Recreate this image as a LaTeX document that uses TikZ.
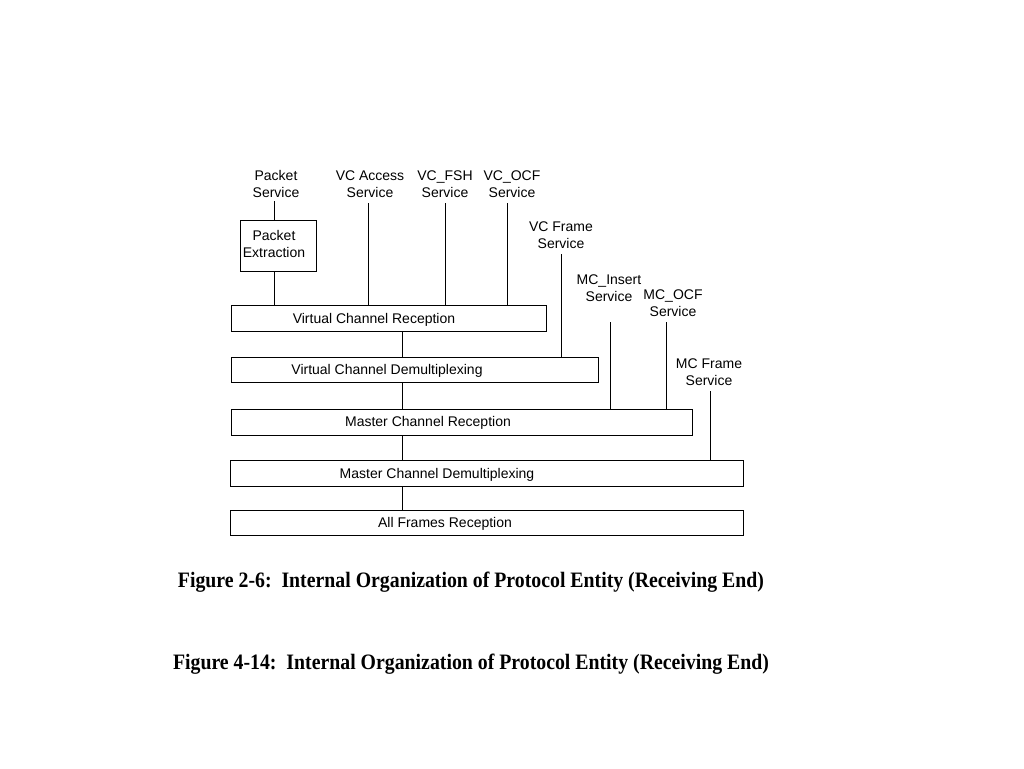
\documentclass[tikz,border=0pt]{standalone}
\usepackage{fontspec}
\setmainfont{Liberation Serif}
\setsansfont{Liberation Sans}
\begin{document}
\begin{tikzpicture}[x=1pt,y=-1pt,
  box/.style={draw,line width=0.9pt,inner sep=0pt,anchor=north west},
  lbl/.style={font=\sffamily\fontsize{14}{17}\selectfont,align=center,inner sep=0pt},
  txt/.style={font=\sffamily\fontsize{14}{17}\selectfont,inner sep=0pt},
  wire/.style={line width=0.9pt},
  captext/.style={font=\bfseries\fontsize{22}{26}\selectfont,inner sep=0pt,xscale=0.9}]
\useasboundingbox (0,0) rectangle (1024,768);
% boxes
\node[box,minimum width=76pt,minimum height=51pt] (pe) at (240,220) {};
\node[txt,align=center] at (274,244) {Packet\\Extraction};
\node[box,minimum width=315pt,minimum height=26pt] (vcr) at (231,305) {};
\node[txt] at (374,320) {Virtual Channel Reception};
\node[box,minimum width=367pt,minimum height=25pt] (vcd) at (231,357) {};
\node[txt] at (387,371) {Virtual Channel Demultiplexing};
\node[box,minimum width=461pt,minimum height=26pt] (mcr) at (231,409) {};
\node[txt] at (428,423) {Master Channel Reception};
\node[box,minimum width=513pt,minimum height=26pt] (mcd) at (230,460) {};
\node[txt] at (437,475) {Master Channel Demultiplexing};
\node[box,minimum width=513pt,minimum height=25pt] (afr) at (230,510) {};
\node[txt] at (445,524) {All Frames Reception};
% service labels
\node[lbl] (ps) at (276,184) {Packet\\Service};
\node[lbl] (vca) at (370,184) {VC Access\\Service};
\node[lbl] (fsh) at (445,184) {VC\_FSH\\Service};
\node[lbl] (ocf) at (512,184) {VC\_OCF\\Service};
\node[lbl] (vcf) at (561,235) {VC Frame\\Service};
\node[lbl] (mci) at (609,288) {MC\_Insert\\Service};
\node[lbl] (mco) at (673,303) {MC\_OCF\\Service};
\node[lbl] (mcf) at (709,372) {MC Frame\\Service};
% line start points
\coordinate (ps0) at (274,201);
\coordinate (vca0) at (368,203);
\coordinate (fsh0) at (445,203);
\coordinate (ocf0) at (507,203);
\coordinate (vcf0) at (561,254);
\coordinate (mci0) at (610,322);
\coordinate (mco0) at (666,322);
\coordinate (mcf0) at (710,391);
\coordinate (mid) at (402,0);
% connectors
\draw[wire] (ps0) -- (ps0 |- pe.north);
\draw[wire] (ps0 |- pe.south) -- (ps0 |- vcr.north);
\draw[wire] (vca0) -- (vca0 |- vcr.north);
\draw[wire] (fsh0) -- (fsh0 |- vcr.north);
\draw[wire] (ocf0) -- (ocf0 |- vcr.north);
\draw[wire] (vcf0) -- (vcf0 |- vcd.north);
\draw[wire] (mci0) -- (mci0 |- mcr.north);
\draw[wire] (mco0) -- (mco0 |- mcr.north);
\draw[wire] (mcf0) -- (mcf0 |- mcd.north);
\draw[wire] (mid |- vcr.south) -- (mid |- vcd.north);
\draw[wire] (mid |- vcd.south) -- (mid |- mcr.north);
\draw[wire] (mid |- mcr.south) -- (mid |- mcd.north);
\draw[wire] (mid |- mcd.south) -- (mid |- afr.north);
% captions
\node[captext] (c1) at (471,582) {Figure 2-6:\ \ Internal Organization of Protocol Entity (Receiving End)};
\node[captext] (c2) at (471,664) {Figure 4-14:\ \ Internal Organization of Protocol Entity (Receiving End)};
\end{tikzpicture}
\end{document}
